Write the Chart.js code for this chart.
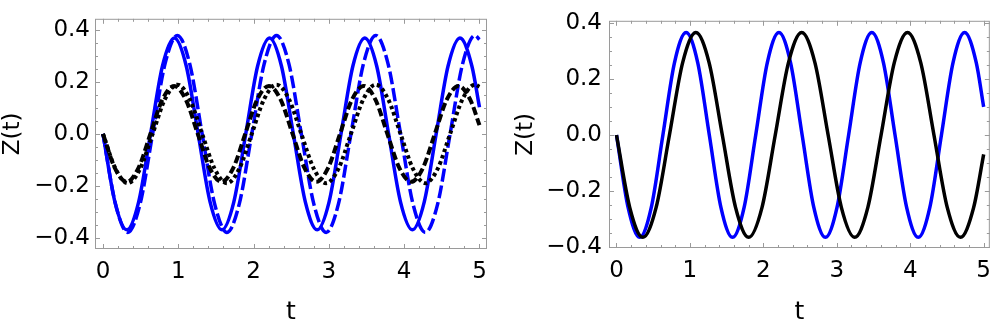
<!DOCTYPE html>
<html>
<head>
<meta charset="utf-8">
<script src="https://cdn.jsdelivr.net/npm/chart.js@4.4.1/dist/chart.umd.min.js"></script>
<style>
  html, body { margin: 0; padding: 0; background: #ffffff; }
  #wrap { position: relative; width: 1000px; height: 320px; overflow: hidden; }
  .cell { position: absolute; top: 0; width: 500px; height: 320px; }
</style>
</head>
<body>
<div id="wrap">
  <div class="cell" style="left:0"><canvas id="leftChart" width="500" height="320"></canvas></div>
  <div class="cell" style="left:500px"><canvas id="rightChart" width="500" height="320"></canvas></div>
</div>
<script>
// ---------- data ----------
const xTickValues = [0, 1, 2, 3, 4, 5];
const yTickValues = [-0.4, -0.2, 0.0, 0.2, 0.4];

// left panel, blue solid
const tBlueSolidL = [0,0.158,0.316,0.474,0.632,0.790,0.948,1.106,1.264,1.422,1.580,1.738,1.896,2.054,2.212,2.370,2.528,2.687,2.845,3.003,3.161,3.319,3.477,3.635,3.793,3.951,4.109,4.267,4.425,4.583,4.741,4.899,5.0];
const zBlueSolidL = [0,-0.262,-0.37,-0.262,0,0.262,0.37,0.262, 0,-0.262,-0.37,-0.262,0,0.262,0.37,0.262, 0,-0.262,-0.37,-0.262,0,0.262,0.37,0.262, 0,-0.262,-0.37,-0.262,0,0.262,0.37,0.262, 0.103];

// left panel, blue dashed
const tBlueDashedL = [0,0.165,0.329,0.494,0.659,0.823,0.988,1.153,1.317,1.482,1.647,1.811,1.976,2.140,2.305,2.470,2.634,2.799,2.964,3.128,3.293,3.458,3.622,3.787,3.952,4.116,4.281,4.446,4.610,4.775,4.940,5.0];
const zBlueDashedL = [0,-0.269,-0.38,-0.269,0,0.269,0.38,0.269, 0,-0.269,-0.38,-0.269,0,0.269,0.38,0.269, 0,-0.269,-0.38,-0.269,0,0.269,0.38,0.269, 0,-0.269,-0.38,-0.269,0,0.269,0.38, 0.364];

// left panel, black dashed
const tBlackDashedL = [0,0.157,0.315,0.472,0.630,0.787,0.944,1.102,1.259,1.417,1.574,1.731,1.889,2.046,2.203,2.361,2.518,2.676,2.833,2.990,3.148,3.305,3.463,3.620,3.777,3.935,4.092,4.250,4.407,4.564,4.722,4.879,5.0];
const zBlackDashedL = [0,-0.131,-0.185,-0.131,0,0.131,0.185,0.131, 0,-0.131,-0.185,-0.131,0,0.131,0.185,0.131, 0,-0.131,-0.185,-0.131,0,0.131,0.185,0.131, 0,-0.131,-0.185,-0.131,0,0.131,0.185,0.131, 0.034];

// left panel, black dotted
const tBlackDottedL = [0,0.165,0.329,0.494,0.659,0.823,0.988,1.153,1.317,1.482,1.647,1.811,1.976,2.140,2.305,2.470,2.634,2.799,2.964,3.128,3.293,3.458,3.622,3.787,3.952,4.116,4.281,4.446,4.610,4.775,4.940,5.0];
const zBlackDottedL = [0,-0.134,-0.19,-0.134,0,0.134,0.19,0.134, 0,-0.134,-0.19,-0.134,0,0.134,0.19,0.134, 0,-0.134,-0.19,-0.134,0,0.134,0.19,0.134, 0,-0.134,-0.19,-0.134,0,0.134,0.19, 0.182];

// right panel, blue solid
const tBlueR = [0,0.158,0.316,0.474,0.632,0.790,0.948,1.106,1.264,1.422,1.580,1.738,1.896,2.054,2.212,2.370,2.528,2.687,2.845,3.003,3.161,3.319,3.477,3.635,3.793,3.951,4.109,4.267,4.425,4.583,4.741,4.899,5.0];
const zBlueR = [0,-0.258,-0.365,-0.258,0,0.258,0.365,0.258, 0,-0.258,-0.365,-0.258,0,0.258,0.365,0.258, 0,-0.258,-0.365,-0.258,0,0.258,0.365,0.258, 0,-0.258,-0.365,-0.258,0,0.258,0.365,0.258, 0.1];

// right panel, black solid
const tBlackR = [0,0.180,0.360,0.540,0.721,0.901,1.081,1.261,1.441,1.621,1.801,1.982,2.162,2.342,2.522,2.702,2.882,3.062,3.243,3.423,3.603,3.783,3.963,4.143,4.323,4.504,4.684,4.864,5.0];
const zBlackR = [0,-0.258,-0.365,-0.258,0,0.258,0.365,0.258, 0,-0.258,-0.365,-0.258,0,0.258,0.365,0.258, 0,-0.258,-0.365,-0.258,0,0.258,0.365,0.258, 0,-0.258,-0.365,-0.258, -0.069];

// ---------- helpers ----------
const BLUE = '#0000ff';
const BLACK = '#000000';
const FRAME = '#9a9a9a';
const FONT = "'DejaVu Sans', 'Liberation Sans', Arial, sans-serif";

function pts(ts, zs) { return ts.map((t, i) => ({ x: t, y: zs[i] })); }

function fmtY(v) {
  const s = Math.abs(v).toFixed(1);
  return v < -1e-9 ? '\u2212' + s : s;
}

const frameTicks = {
  id: 'frameTicks',
  beforeDatasetsDraw(chart) {
    const { ctx, chartArea: a, scales: { x, y } } = chart;
    ctx.save();
    ctx.strokeStyle = FRAME;
    ctx.lineWidth = 1;
    ctx.strokeRect(a.left + 0.5, a.top + 0.5, a.right - a.left - 1, a.bottom - a.top - 1);
    ctx.beginPath();
    for (let i = 0; i <= 25; i++) {
      const v = i * 0.2;
      const px = Math.round(x.getPixelForValue(v)) + 0.5;
      const len = (i % 5 === 0) ? 5 : 3;
      ctx.moveTo(px, a.bottom); ctx.lineTo(px, a.bottom - len);
      ctx.moveTo(px, a.top); ctx.lineTo(px, a.top + len);
    }
    for (let i = -8; i <= 8; i++) {
      const v = i * 0.05;
      const py = Math.round(y.getPixelForValue(v)) + 0.5;
      const len = (i % 4 === 0) ? 5 : 3;
      ctx.moveTo(a.left, py); ctx.lineTo(a.left + len, py);
      ctx.moveTo(a.right, py); ctx.lineTo(a.right - len, py);
    }
    ctx.stroke();
    ctx.restore();
  }
};

function line(data, color, dash, width) {
  return {
    data, borderColor: color, backgroundColor: color,
    borderWidth: width || 3.5, borderDash: dash || [],
    pointRadius: 0, fill: false,
    cubicInterpolationMode: 'monotone',
    borderCapStyle: 'butt', borderJoinStyle: 'round'
  };
}

function makeChart(canvasId, datasets, cfg) {
  return new Chart(document.getElementById(canvasId), {
    type: 'line',
    data: { datasets },
    plugins: [frameTicks],
    options: {
      responsive: false,
      devicePixelRatio: 1,
      animation: false,
      events: [],
      layout: { padding: cfg.padding },
      plugins: { legend: { display: false }, tooltip: { enabled: false } },
      scales: {
        x: {
          type: 'linear',
          min: cfg.xMin, max: cfg.xMax,
          grid: { display: false, drawTicks: false },
          border: { display: false },
          afterBuildTicks: s => { s.ticks = xTickValues.map(v => ({ value: v })); },
          afterFit: s => { s.height = cfg.xHeight; },
          ticks: {
            color: BLACK, padding: cfg.xTickPad, maxRotation: 0, autoSkip: false,
            font: { family: FONT, size: 23 },
            callback: v => String(v)
          },
          title: {
            display: true, text: 't', color: BLACK,
            font: { family: FONT, size: 25, lineHeight: 1.0 },
            padding: { top: 0, bottom: cfg.xTitlePad }
          }
        },
        y: {
          type: 'linear',
          min: cfg.yMin, max: cfg.yMax,
          grid: { display: false, drawTicks: false },
          border: { display: false },
          afterBuildTicks: s => { s.ticks = yTickValues.map(v => ({ value: v })); },
          afterFit: s => { s.width = cfg.yWidth; },
          ticks: {
            color: BLACK, padding: cfg.yTickPad, autoSkip: false,
            font: { family: FONT, size: 23 },
            callback: v => fmtY(v)
          },
          title: {
            display: true, text: 'Z(t)', color: BLACK,
            font: { family: FONT, size: 23, lineHeight: 1.1 },
            padding: { top: cfg.yTitlePad, bottom: 0 }
          }
        }
      }
    }
  });
}

makeChart('leftChart', [
  line(pts(tBlackDottedL, zBlackDottedL), BLACK, [3.5, 3], 4),
  line(pts(tBlackDashedL, zBlackDashedL), BLACK, [8, 3.5], 4),
  line(pts(tBlueDashedL, zBlueDashedL), BLUE, [13, 4], 3.5),
  line(pts(tBlueSolidL, zBlueSolidL), BLUE, [], 3.5)
], {
  padding: { left: 0, right: 13, top: 7, bottom: 0 },
  xMin: -0.106, xMax: 5.10, yMin: -0.444, yMax: 0.444,
  xHeight: 71, yWidth: 95, xTickPad: 9, yTickPad: 5, xTitlePad: -5, yTitlePad: 0
});

makeChart('rightChart', [
  line(pts(tBlackR, zBlackR), BLACK, [], 3.5),
  line(pts(tBlueR, zBlueR), BLUE, [], 3.5)
], {
  padding: { left: 0, right: 1, top: 7, bottom: 0 },
  xMin: -0.102, xMax: 5.084, yMin: -0.403, yMax: 0.407,
  xHeight: 72, yWidth: 109, xTickPad: 9, yTickPad: 7, xTitlePad: -5, yTitlePad: 13
});
</script>
</body>
</html>
